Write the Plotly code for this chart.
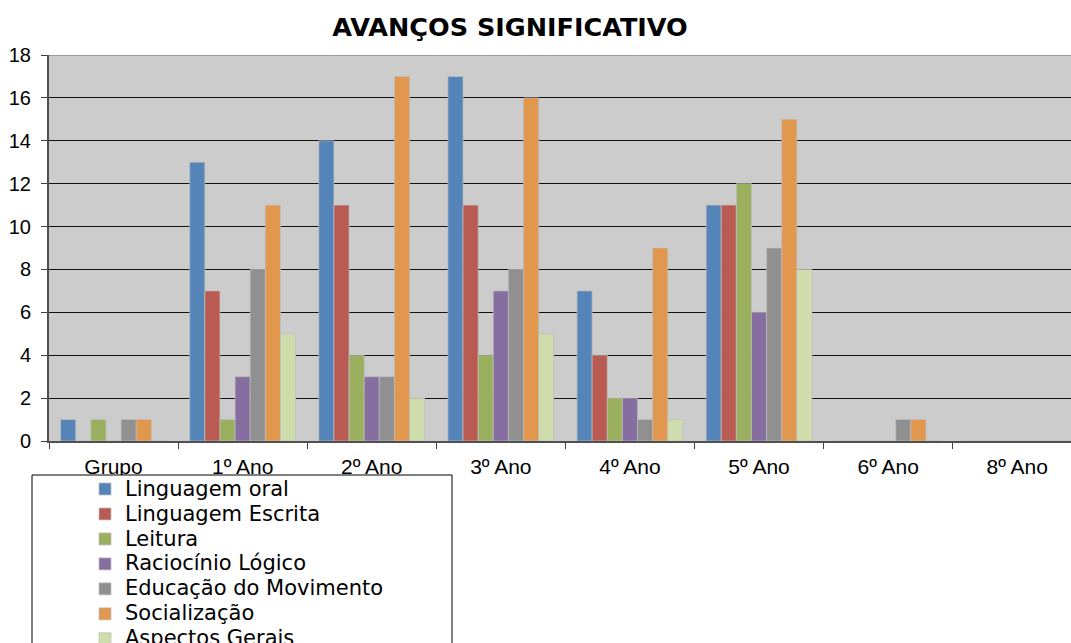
import plotly.graph_objects as go

# Categories (school years) and the count of "significant progress" per area
categories = ["Grupo", "1º Ano", "2º Ano", "3º Ano", "4º Ano", "5º Ano", "6º Ano", "8º Ano"]

linguagem_oral = [1, 13, 14, 17, 7, 11, 0, 0]
linguagem_escrita = [0, 7, 11, 11, 4, 11, 0, 0]
leitura = [1, 1, 4, 4, 2, 12, 0, 0]
raciocinio_logico = [0, 3, 3, 7, 2, 6, 0, 0]
educacao_movimento = [1, 8, 3, 8, 1, 9, 1, 0]
socializacao = [1, 11, 17, 16, 9, 15, 1, 0]
aspectos_gerais = [0, 5, 2, 5, 1, 8, 0, 0]

series_names = [
    "Linguagem oral",
    "Linguagem Escrita",
    "Leitura",
    "Raciocínio Lógico",
    "Educação do Movimento",
    "Socialização",
    "Aspectos Gerais",
]
series_values = [
    linguagem_oral,
    linguagem_escrita,
    leitura,
    raciocinio_logico,
    educacao_movimento,
    socializacao,
    aspectos_gerais,
]
series_colors = ["#5585B8", "#B95B53", "#9BB05E", "#866EA0", "#909090", "#E2974E", "#CFDDAD"]

y_ticks = [0, 2, 4, 6, 8, 10, 12, 14, 16, 18]

W, H = 1071, 643
ML, MR, MT, MB = 49, 0, 55, 202
plot_w = W - ML - MR
plot_h = H - MT - MB
cat_px = 129.1  # width of one category band in pixels

fig = go.Figure()
for name, vals, color in zip(series_names, series_values, series_colors):
    fig.add_trace(go.Bar(
        x=categories,
        y=vals,
        # legend rows are spaced by the legend font; the label itself is drawn larger
        name=f'<span style="font-size:21px">{name}</span>',
        marker=dict(color=color, line=dict(color="rgba(190,190,190,0.9)", width=0.8)),
    ))


def px_to_paper_x(px):
    return (px - ML) / plot_w


def px_to_paper_y(py):
    return (H - MB - py) / plot_h


# legend frame (white box, partly running off the bottom edge)
fig.add_shape(
    type="rect", xref="paper", yref="paper",
    x0=px_to_paper_x(32), x1=px_to_paper_x(452),
    y0=px_to_paper_y(700), y1=px_to_paper_y(475),
    line=dict(color="#000000", width=1), fillcolor="#FFFFFF", layer="above",
)
# top border of the plot area
fig.add_shape(
    type="line", xref="paper", yref="y",
    x0=0, x1=1, y0=18, y1=18,
    line=dict(color="#9A9A9A", width=2), layer="above",
)

fig.update_layout(
    width=W, height=H,
    margin=dict(l=ML, r=MR, t=MT, b=MB, autoexpand=False),
    paper_bgcolor="#FFFFFF",
    plot_bgcolor="#CCCCCC",
    barmode="group",
    bargap=0.18,
    bargroupgap=0,
    title=dict(
        text="<b>AVANÇOS SIGNIFICATIVO</b>",
        font=dict(family="DejaVu Sans", size=25.5, color="#000000"),
        xref="container", yref="container",
        x=510 / W, y=1 - 27 / H, xanchor="center", yanchor="middle",
    ),
    legend=dict(
        x=px_to_paper_x(32), y=px_to_paper_y(471.5),
        xanchor="left", yanchor="top",
        bgcolor="rgba(0,0,0,0)", borderwidth=0,
        font=dict(family="DejaVu Sans", size=16.9, color="#000000"),
        indentation=53,
        traceorder="normal",
    ),
    showlegend=True,
    xaxis=dict(
        range=[-0.5, -0.5 + plot_w / cat_px],
        tickson="boundaries",
        ticks="outside", ticklen=6, tickcolor="#404040", tickwidth=1,
        showline=True, linecolor="#505050", linewidth=2,
        showgrid=False,
        ticklabelstandoff=6,
        tickfont=dict(family="Liberation Sans", size=21, color="#000000"),
    ),
    yaxis=dict(
        range=[0, 18],
        tickvals=y_ticks,
        ticks="outside", ticklen=6, tickcolor="#404040", tickwidth=1,
        showline=True, linecolor="#505050", linewidth=2,
        showgrid=True, gridcolor="#111111", gridwidth=1,
        zeroline=False,
        ticklabelstandoff=6,
        tickfont=dict(family="Liberation Sans", size=20, color="#000000"),
    ),
)

fig.write_html("out.html")
